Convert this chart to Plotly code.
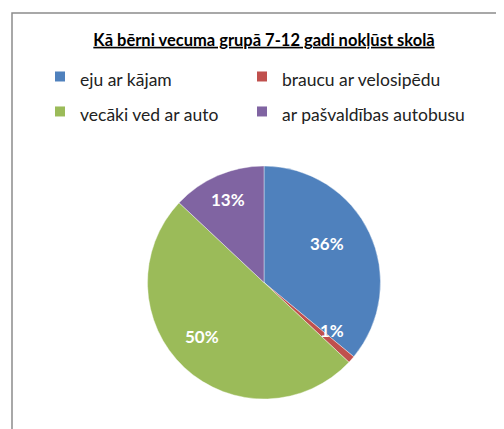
import math
import plotly.graph_objects as go

labels = ["eju ar kājam", "braucu ar velosipēdu", "vecāki ved ar auto", "ar pašvaldības autobusu"]
values = [36, 1, 50, 13]
colors = ["#4F81BD", "#C0504D", "#9BBB59", "#8064A2"]
title = "Kā bērni vecuma grupā 7-12 gadi nokļūst skolā"

W, H = 504, 429
OFF = 8  # page body margin


def px(x):
    return (x - OFF) / W


def py(y):
    return 1 - (y - OFF) / H


# pie geometry (screen pixels)
CX, CY, R = 264, 282.5, 116.5

fig = go.Figure()
fig.add_trace(
    go.Pie(
        labels=labels,
        values=values,
        sort=False,
        direction="clockwise",
        rotation=0,
        marker=dict(colors=colors, line=dict(color="white", width=0.4)),
        textinfo="none",
        domain=dict(x=[px(CX - R), px(CX + R)], y=[py(CY + R), py(CY - R)]),
        hovertemplate="%{label}: %{percent:.0%}<extra></extra>",
        showlegend=False,
    )
)

# two-column legend like Excel: one legend per column
for i, (lab, col) in enumerate(zip(labels, colors)):
    fig.add_trace(
        go.Scatter(
            x=[None], y=[None], mode="markers",
            name=f'<span style="font-size:17.5px">{lab}</span>',
            marker=dict(symbol="square", size=10, color=col),
            legend="legend" if i % 2 == 0 else "legend2",
            hoverinfo="skip",
        )
    )

# percentage labels along each slice bisector, Excel-style
total = sum(values)
cum = 0
for v in values:
    mid = 2 * math.pi * (cum + v / 2) / total
    cum += v
    r = 0.78 * R
    fig.add_annotation(
        x=px(CX + r * math.sin(mid)), y=py(CY - r * math.cos(mid)),
        xref="paper", yref="paper", showarrow=False,
        text=f"{round(100 * v / total)}%",
        font=dict(family="Lato", size=17, color="white", weight="bold"),
    )

fig.add_shape(
    type="rect", xref="paper", yref="paper",
    x0=px(12), x1=1.05, y0=-0.05, y1=py(13),
    line=dict(color="#8c8c8c", width=1.5),
)

leg = dict(
    orientation="v", xanchor="left", yanchor="top",
    font=dict(size=24.6, color="#222"),
    bgcolor="rgba(0,0,0,0)",
    traceorder="normal",
)

fig.update_layout(
    width=W,
    height=H,
    margin=dict(l=0, r=0, t=0, b=0),
    paper_bgcolor="white",
    plot_bgcolor="white",
    font=dict(family="Lato", color="#222"),
    xaxis=dict(visible=False),
    yaxis=dict(visible=False),
    title=dict(
        text="<u>" + title + "</u>",
        x=px(264), xanchor="center",
        y=py(40), yanchor="middle",
        font=dict(size=16.5, weight="bold", color="black"),
    ),
    legend=dict(leg, x=px(40), y=py(54)),
    legend2=dict(leg, x=px(242), y=py(54)),
)

fig.write_html("out.html")
